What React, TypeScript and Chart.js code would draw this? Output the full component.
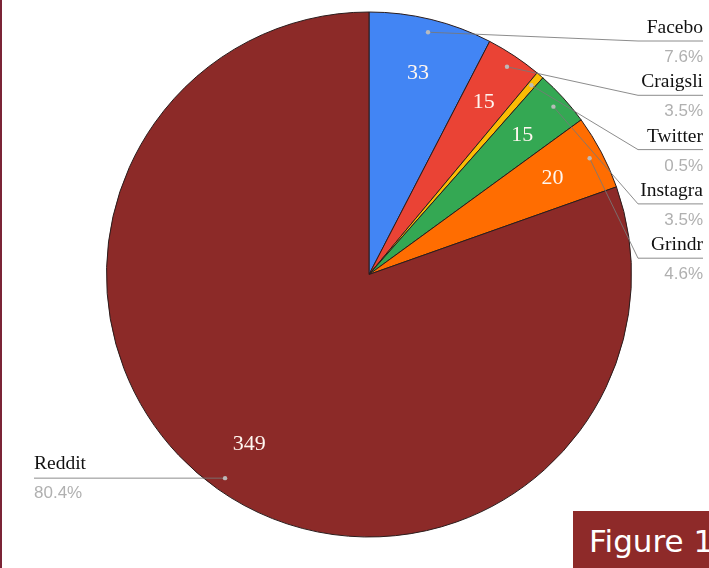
import React, { useEffect, useRef } from "react";
import { Chart, registerables } from "chart.js";

Chart.register(...registerables);

const categories = ["Facebook", "Craigslist", "Twitter", "Instagram", "Grindr", "Reddit"];
const shownNames = ["Facebo", "Craigsli", "Twitter", "Instagra", "Grindr", "Reddit"];
const values = [33, 15, 2, 15, 20, 349];
const percentLabels = ["7.6%", "3.5%", "0.5%", "3.5%", "4.6%", "80.4%"];
const valueLabels = ["33", "15", "", "15", "20", "349"];
const sliceColors = ["#4285f4", "#ea4335", "#fbbc04", "#34a853", "#ff6d01", "#8c2a28"];

const labelPlugin = {
  id: "sideLabels",
  afterDraw(chart: any) {
    const ctx = chart.ctx as CanvasRenderingContext2D;
    const meta = chart.getDatasetMeta(0);
    const arcs = meta.data as any[];
    ctx.save();
    // value labels inside slices
    ctx.fillStyle = "#fff6f0";
    ctx.font = "22px 'Liberation Serif', serif";
    ctx.textAlign = "center";
    ctx.textBaseline = "middle";
    arcs.forEach((arc, i) => {
      if (!valueLabels[i]) return;
      const p = arc.getProps(["x", "y", "startAngle", "endAngle", "outerRadius"], true);
      const mid = (p.startAngle + p.endAngle) / 2;
      const r = p.outerRadius * 0.79;
      ctx.fillText(valueLabels[i], p.x + Math.cos(mid) * r, p.y + Math.sin(mid) * r);
    });

    // leader lines & side labels
    const rightX = 703;
    const elbowX = 638;
    const firstBase = 33;
    const step = 54.3;
    arcs.forEach((arc, i) => {
      const p = arc.getProps(["x", "y", "startAngle", "endAngle", "outerRadius"], true);
      const mid = (p.startAngle + p.endAngle) / 2;
      const r = p.outerRadius * 0.95;
      const dx = p.x + Math.cos(mid) * r;
      const dy = p.y + Math.sin(mid) * r;
      const isLeft = Math.cos(mid) < 0;
      let nameBase: number;
      let lineY: number;
      ctx.strokeStyle = "rgba(120,120,120,0.85)";
      ctx.lineWidth = 1;
      ctx.beginPath();
      if (isLeft) {
        lineY = dy;
        nameBase = lineY - 9;
        ctx.moveTo(dx, dy);
        ctx.lineTo(34, lineY);
      } else {
        nameBase = firstBase + step * i;
        lineY = nameBase + 8;
        ctx.moveTo(dx, dy);
        ctx.lineTo(elbowX, lineY);
        ctx.lineTo(rightX, lineY);
      }
      ctx.stroke();
      // dot
      ctx.fillStyle = "rgba(190,190,190,0.95)";
      ctx.beginPath();
      ctx.arc(dx, dy, 2.2, 0, Math.PI * 2);
      ctx.fill();
      // texts
      ctx.textBaseline = "alphabetic";
      ctx.textAlign = isLeft ? "left" : "right";
      const tx = isLeft ? 34 : rightX;
      ctx.fillStyle = "#111";
      ctx.font = "19.5px 'Liberation Serif', serif";
      ctx.fillText(shownNames[i], tx, nameBase);
      ctx.fillStyle = "#b0b0b0";
      ctx.font = "17px 'Liberation Sans', sans-serif";
      ctx.fillText(percentLabels[i], tx, nameBase + 29);
    });
    ctx.restore();
  },
};

export default function App() {
  const ref = useRef<HTMLCanvasElement | null>(null);
  useEffect(() => {
    if (!ref.current) return;
    const chart = new Chart(ref.current, {
      type: "pie",
      data: {
        labels: categories,
        datasets: [
          {
            data: values,
            backgroundColor: sliceColors,
            borderColor: "#2a1c1c",
            borderWidth: 1,
          },
        ],
      },
      options: {
        responsive: false,
        animation: false,
        devicePixelRatio: 1,
        layout: { padding: { left: 106, right: 77, top: 11, bottom: 30 } },
        plugins: {
          legend: { display: false },
          tooltip: { enabled: false },
        },
      },
      plugins: [labelPlugin],
    });
    return () => chart.destroy();
  }, []);

  return (
    <div
      style={{
        position: "fixed",
        left: 0,
        top: 0,
        width: 709,
        height: 568,
        overflow: "hidden",
        background: "#ffffff",
      }}
    >
      <canvas ref={ref} width={709} height={568} style={{ position: "absolute", left: 0, top: 0 }} />
      <div
        style={{
          position: "absolute",
          left: 0,
          top: 0,
          width: 2,
          height: 568,
          background: "#7b2436",
        }}
      />
      <div
        style={{
          position: "absolute",
          left: 573,
          top: 511,
          width: 160,
          height: 60,
          background: "#8e2a29",
          color: "#ffffff",
          fontFamily: "'DejaVu Sans', Verdana, sans-serif",
          fontSize: 31,
          lineHeight: "60px",
          paddingLeft: 16,
          whiteSpace: "nowrap",
          boxSizing: "border-box",
        }}
      >
        Figure 1
      </div>
    </div>
  );
}
